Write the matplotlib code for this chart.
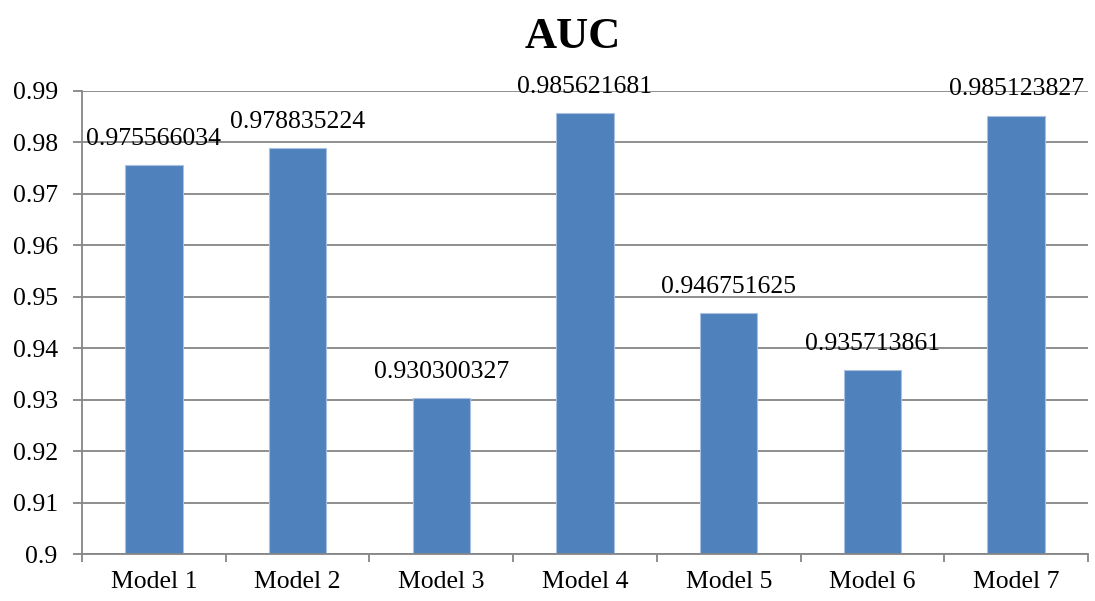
import numpy as np
import matplotlib
matplotlib.use('Agg')
import matplotlib.pyplot as plt

plt.rcParams['font.family'] = ['Liberation Serif', 'DejaVu Serif']

models = ['Model 1', 'Model 2', 'Model 3', 'Model 4', 'Model 5', 'Model 6', 'Model 7']
auc = [0.975566034, 0.978835224, 0.930300327, 0.985621681,
       0.946751625, 0.935713861, 0.985123827]
yticks = [0.9, 0.91, 0.92, 0.93, 0.94, 0.95, 0.96, 0.97, 0.98, 0.99]

fig = plt.figure(figsize=(10.95, 6.01), dpi=100)
ax = fig.add_axes([82/1095, 1 - 554/601, (1088 - 82)/1095, (554 - 90.7)/601])

ind = np.arange(len(models))
grid_c = '#868686'

bars = ax.bar(ind, auc, 0.4, color='#4f81bd', edgecolor='#a9c1df', linewidth=0.8, zorder=3)

ax.set_xlim(-0.5, len(models) - 0.5)
ax.set_ylim(0.9, 0.99)
ax.set_yticks(yticks)
ax.set_yticklabels(['%g' % v for v in yticks])
ax.yaxis.grid(True, color=grid_c, linewidth=1.3, zorder=0)

ax.set_xticks(ind)
ax.set_xticklabels(models)
ax.set_xticks(np.arange(len(models) + 1) - 0.5, minor=True)
ax.tick_params(axis='x', which='major', length=0, pad=12, labelsize=18.5)
ax.tick_params(axis='x', which='minor', length=6, width=1.3, color=grid_c, direction='out')
ax.tick_params(axis='y', length=6.5, width=1.3, color=grid_c, pad=11, labelsize=18.5)

for s in ['top', 'right']:
    ax.spines[s].set_visible(False)
for s in ['left', 'bottom']:
    ax.spines[s].set_color(grid_c)
    ax.spines[s].set_linewidth(1.3)
ax.spines['bottom'].set_zorder(4)

for rect, v in zip(bars, auc):
    ax.annotate('%.9f' % v, (rect.get_x() + rect.get_width() / 2., v),
                xytext=(0, 19), textcoords='offset points',
                ha='center', va='center', fontsize=18.5, zorder=5,
                annotation_clip=False)

fig.text(573/1095, 1 - 37/601, 'AUC', ha='center', va='center',
         fontsize=32, fontweight='bold')

fig.savefig('out.png', dpi=100)
